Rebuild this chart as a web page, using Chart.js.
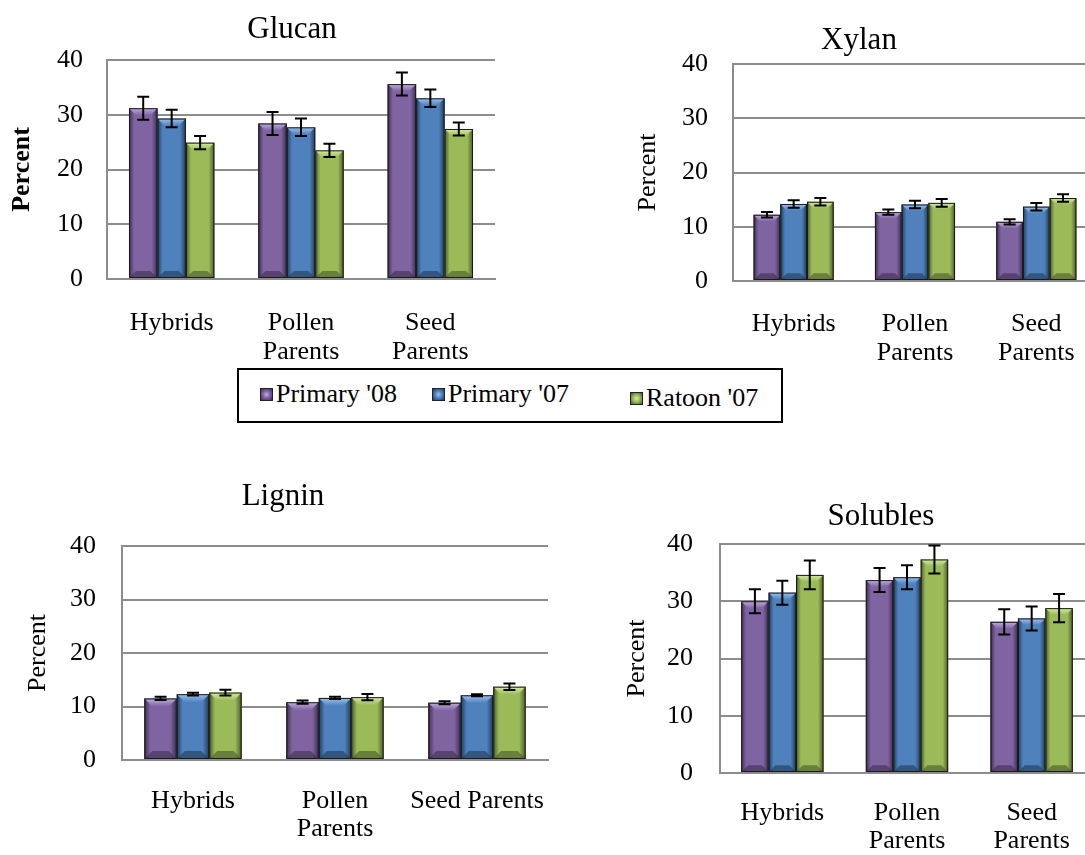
<!DOCTYPE html>
<html>
<head>
<meta charset="utf-8">
<script src="https://cdn.jsdelivr.net/npm/chart.js@4.4.1/dist/chart.umd.min.js"></script>
<style>
  body { margin: 0; width: 1085px; height: 855px; overflow: hidden; background: #fff; position: relative; font-family: "Liberation Serif", serif; }
  canvas { position: absolute; }
  #legenda { position: absolute; left: 237px; top: 368px; width: 542px; height: 51px; border: 2px solid #000; z-index: 2; background: #fff; }
  .item { position: absolute; font-size: 26px; line-height: 26px; color: #000; white-space: nowrap; }
  .quad { display: inline-block; width: 13px; height: 13px; margin-right: 3px; vertical-align: 1px; box-sizing: border-box; border: 1px solid #222; }
</style>
</head>
<body>
<canvas id="cvs_glucan" width="584" height="370" style="left:0px;top:0px"></canvas>
<canvas id="cvs_xylan" width="476" height="380" style="left:621px;top:0px"></canvas>
<canvas id="cvs_lignin" width="566" height="380" style="left:0px;top:470px"></canvas>
<canvas id="cvs_solubles" width="582" height="365" style="left:620px;top:490px"></canvas>
<div id="legenda"></div>
<script>
// categorias e series
const categorias = ["Hybrids", ["Pollen", "Parents"], ["Seed", "Parents"]];
const categoriasLignin = ["Hybrids", ["Pollen", "Parents"], "Seed Parents"];
const series = ["Primary '08", "Primary '07", "Ratoon '07"];
const ticksY = [0, 10, 20, 30, 40];

// valores (uma linha por serie)
const glucanValores = [[31.2, 28.4, 35.6], [29.3, 27.7, 33.0], [24.9, 23.5, 27.4]];
const glucanErros = [[2.1, 2.1, 2.1], [1.6, 1.6, 1.6], [1.2, 1.2, 1.2]];
const xylanValores = [[12.2, 12.7, 10.9], [14.2, 14.1, 13.7], [14.6, 14.4, 15.3]];
const xylanErros = [[0.5, 0.5, 0.5], [0.7, 0.7, 0.7], [0.7, 0.7, 0.7]];
const ligninValores = [[11.5, 10.8, 10.7], [12.3, 11.6, 12.1], [12.6, 11.75, 13.7]];
const ligninErros = [[0.3, 0.3, 0.3], [0.25, 0.2, 0.2], [0.55, 0.6, 0.6]];
const solublesValores = [[30.0, 33.7, 26.4], [31.5, 34.2, 27.0], [34.6, 37.3, 28.8]];
const solublesErros = [[2.1, 2.1, 2.2], [2.1, 2.1, 2.1], [2.5, 2.45, 2.45]];

// cores das series: base, escura, clara
const cores = [
  { base: "#8064A2", escura: "#3b2d4d", clara: "#c2addf" },
  { base: "#4F81BD", escura: "#213a58", clara: "#9cc3f0" },
  { base: "#9BBB59", escura: "#48592a", clara: "#d6ec9f" },
];

const fonte = "'Liberation Serif', 'Times New Roman', serif";

// titulo desenhado numa posicao fixa do canvas
const pluginTitulo = {
  id: "tituloFixo",
  afterDraw(chart) {
    const o = chart.options.plugins.tituloFixo;
    const ctx = chart.ctx;
    ctx.save();
    ctx.font = "31px " + fonte;
    ctx.fillStyle = "#000";
    ctx.textAlign = "center";
    ctx.textBaseline = "middle";
    ctx.fillText(o.texto, o.x, o.y);
    ctx.restore();
  },
};

// desenha o efeito de bisel e as barras de erro
const pluginBisel = {
  id: "bisel",
  afterDatasetsDraw(chart) {
    const ctx = chart.ctx;
    const erros = chart.options.plugins.bisel.erros;
    const escalaY = chart.scales.y;
    ctx.save();
    chart.data.datasets.forEach(function (ds, i) {
      const meta = chart.getDatasetMeta(i);
      const cor = cores[i];
      meta.data.forEach(function (barra) {
        const x0 = barra.x - barra.width / 2;
        const x1 = barra.x + barra.width / 2;
        const yt = barra.y;
        const yb = barra.base;
        const b = Math.min(8, barra.width / 4);
        // corpo com gradiente horizontal
        const g = ctx.createLinearGradient(x0, 0, x1, 0);
        g.addColorStop(0, cor.escura);
        g.addColorStop(0.18, cor.base);
        g.addColorStop(0.8, cor.base);
        g.addColorStop(1, cor.escura);
        ctx.fillStyle = g;
        ctx.fillRect(x0, yt, x1 - x0, yb - yt);
        // topo claro
        const gt = ctx.createLinearGradient(0, yt, 0, yt + b);
        gt.addColorStop(0, cor.clara);
        gt.addColorStop(1, cor.base);
        ctx.fillStyle = gt;
        ctx.beginPath();
        ctx.moveTo(x0, yt); ctx.lineTo(x1, yt); ctx.lineTo(x1 - b, yt + b); ctx.lineTo(x0 + b, yt + b);
        ctx.closePath(); ctx.fill();
        // base escura
        ctx.fillStyle = cor.escura;
        ctx.globalAlpha = 0.6;
        ctx.beginPath();
        ctx.moveTo(x0, yb); ctx.lineTo(x1, yb); ctx.lineTo(x1 - b, yb - b); ctx.lineTo(x0 + b, yb - b);
        ctx.closePath(); ctx.fill();
        ctx.globalAlpha = 1;
        ctx.strokeStyle = "#1a1a1a";
        ctx.lineWidth = 1;
        ctx.strokeRect(x0 + 0.5, yt + 0.5, x1 - x0 - 1, yb - yt - 1);
      });
    });
    // barras de erro
    ctx.strokeStyle = "#000";
    ctx.lineWidth = 2;
    chart.data.datasets.forEach(function (ds, i) {
      const meta = chart.getDatasetMeta(i);
      meta.data.forEach(function (barra, j) {
        const v = ds.data[j];
        const e = erros[i][j];
        const yA = escalaY.getPixelForValue(v + e);
        const yB = escalaY.getPixelForValue(v - e);
        ctx.beginPath();
        ctx.moveTo(barra.x, yA); ctx.lineTo(barra.x, yB);
        ctx.moveTo(barra.x - 6, yA); ctx.lineTo(barra.x + 6, yA);
        ctx.moveTo(barra.x - 6, yB); ctx.lineTo(barra.x + 6, yB);
        ctx.stroke();
      });
    });
    ctx.restore();
  },
};

function criarGrafico(id, titulo, labels, valores, erros, lay) {
  new Chart(document.getElementById(id), {
    type: "bar",
    data: {
      labels: labels,
      datasets: series.map(function (nome, i) {
        return {
          label: nome,
          data: valores[i],
          backgroundColor: cores[i].base,
          borderWidth: 0,
          barPercentage: 1,
          categoryPercentage: lay.cat,
        };
      }),
    },
    options: {
      responsive: false,
      animation: false,
      layout: { padding: { left: lay.padEsq, right: lay.padDir, top: lay.padTopo, bottom: 0 } },
      plugins: {
        legend: { display: false },
        tooltip: { enabled: false },
        title: { display: false },
        tituloFixo: { texto: titulo, x: lay.tx, y: lay.ty },
        bisel: { erros: erros },
      },
      scales: {
        x: {
          grid: { display: false },
          border: { display: true, color: "#8c8c8c", width: 2 },
          ticks: {
            color: "#000",
            padding: lay.padX,
            maxRotation: 0,
            font: { family: fonte, size: 26, lineHeight: 1.1 },
          },
          afterFit: function (s) { s.height = lay.altX; },
        },
        y: {
          min: 0,
          max: 40,
          afterBuildTicks: function (s) { s.ticks = ticksY.map(function (v) { return { value: v }; }); },
          grid: { color: "#8c8c8c", lineWidth: 2, drawTicks: false },
          border: { display: true, color: "#8c8c8c", width: 2 },
          ticks: {
            color: "#000",
            padding: lay.padY,
            font: { family: fonte, size: 26 },
          },
          title: {
            display: true,
            text: "Percent",
            color: "#000",
            padding: 0,
            font: { family: fonte, size: 26, weight: lay.negrito ? "bold" : "normal", lineHeight: 1.2 },
          },
          afterFit: function (s) { s.width = lay.largY; },
        },
      },
    },
    plugins: [pluginBisel, pluginTitulo],
  });
}

criarGrafico("cvs_glucan", "Glucan", categorias, glucanValores, glucanErros,
  { cat: 0.66, padEsq: 7, padDir: 89, padTopo: 60, tx: 292, ty: 30, largY: 100, padY: 24, altX: 91, padX: 22, negrito: true });
criarGrafico("cvs_xylan", "Xylan", categorias, xylanValores, xylanErros,
  { cat: 0.66, padEsq: 11.4, padDir: 0, padTopo: 64, tx: 238, ty: 41, largY: 100.6, padY: 25, altX: 99, padX: 21, negrito: false });
criarGrafico("cvs_lignin", "Lignin", categoriasLignin, ligninValores, ligninErros,
  { cat: 0.685, padEsq: 22.4, padDir: 18, padTopo: 76, tx: 283, ty: 27, largY: 99.6, padY: 26, altX: 90, padX: 18.7, negrito: false });
criarGrafico("cvs_solubles", "Solubles", categorias, solublesValores, solublesErros,
  { cat: 0.66, padEsq: 1.4, padDir: 108, padTopo: 54, tx: 261, ty: 27, largY: 98.6, padY: 27, altX: 82, padX: 17.7, negrito: false });

// legenda compartilhada
const posLegenda = [[21, 11], [193, 11], [391, 15]];
let htmlLegenda = "";
series.forEach(function (nome, i) {
  const c = cores[i];
  htmlLegenda += "<div class='item' style='left:" + posLegenda[i][0] + "px;top:" + posLegenda[i][1] + "px'>" +
    "<span class='quad' style='background:radial-gradient(circle," + c.clara + " 0%," + c.base + " 45%," + c.escura + " 100%)'></span>" +
    nome + "</div>";
});
document.getElementById("legenda").innerHTML = htmlLegenda;
</script>
</body>
</html>
